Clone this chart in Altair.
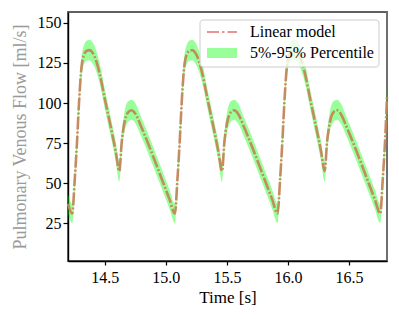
import altair as alt
import pandas as pd

# Time [s]
time = [
    14.200, 14.235, 14.255, 14.274, 14.290, 14.310, 14.330, 14.355, 14.377, 14.400,
    14.430, 14.460, 14.500, 14.550, 14.590, 14.620, 14.640, 14.660, 14.690, 14.720,
    14.750, 14.800, 14.880, 14.960, 15.030, 15.075,
    15.095, 15.114, 15.130, 15.150, 15.170, 15.195, 15.217, 15.240, 15.270, 15.300,
    15.340, 15.390, 15.430, 15.460, 15.480, 15.500, 15.530, 15.560, 15.590, 15.640,
    15.720, 15.800, 15.870, 15.915,
    15.935, 15.954, 15.970, 15.990, 16.010, 16.035, 16.057, 16.080, 16.110, 16.140,
    16.180, 16.230, 16.270, 16.300, 16.320, 16.340, 16.370, 16.400, 16.430, 16.480,
    16.560, 16.640, 16.710, 16.755,
    16.775, 16.794, 16.810,
]
# Linear model flow [ml/s]
flow = [
    37, 31, 52, 76, 100, 122, 130, 132.6, 133, 131.5,
    126.5, 118, 103, 85, 70, 57.5, 76, 87, 94, 95.5,
    93.5, 85, 70, 54, 40, 31,
    52, 76, 100, 122, 130, 132.6, 133, 131.5, 126.5, 118,
    103, 85, 70, 57.5, 76, 87, 94, 95.5, 93.5, 85,
    70, 54, 40, 31,
    52, 76, 100, 122, 130, 132.6, 133, 131.5, 126.5, 118,
    103, 85, 70, 57.5, 76, 87, 94, 95.5, 93.5, 85,
    70, 54, 40, 31,
    52, 76, 104,
]
# 5% percentile
p05 = [
    31, 25, 46, 70, 94, 116, 124, 126.5, 126.5, 125,
    120, 112, 97, 79, 64, 51, 70, 81, 88, 89.5,
    87.5, 79, 64, 48, 34, 25,
    46, 70, 94, 116, 124, 126.5, 126.5, 125, 120, 112,
    97, 79, 64, 51, 70, 81, 88, 89.5, 87.5, 79,
    64, 48, 34, 25,
    46, 70, 94, 116, 124, 126.5, 126.5, 125, 120, 112,
    97, 79, 64, 51, 70, 81, 88, 89.5, 87.5, 79,
    64, 48, 34, 25,
    46, 70, 98,
]
# 95% percentile
p95 = [
    43, 37, 58, 82, 106, 128, 136, 139, 139.5, 138,
    133, 124.5, 109, 91, 76, 63.5, 82, 93.5, 101, 102,
    100, 91, 76, 60, 46, 37,
    58, 82, 106, 128, 136, 139, 139.5, 138, 133, 124.5,
    109, 91, 76, 63.5, 82, 93.5, 101, 102, 100, 91,
    76, 60, 46, 37,
    58, 82, 106, 128, 136, 139, 139.5, 138, 133, 124.5,
    109, 91, 76, 63.5, 82, 93.5, 101, 102, 100, 91,
    76, 60, 46, 37,
    58, 82, 110,
]

x_ticks = [14.5, 15.0, 15.5, 16.0, 16.5]
y_ticks = [25, 50, 75, 100, 125, 150]
legend_labels = ["Linear model", "5%-95% Percentile"]

df = pd.DataFrame({"t": time, "v": flow, "lo": p05, "hi": p95})

W, H = 319, 249
FONT = "Liberation Serif, Times New Roman, Times, serif"

xs = alt.Scale(domain=[14.2, 16.81], nice=False, zero=False)
ys = alt.Scale(domain=[1.4, 156.8], nice=False, zero=False)

xaxis = alt.Axis(values=x_ticks, format=".1f", title="Time [s]", grid=False,
                 tickSize=4, labelPadding=4, titlePadding=4, titleFontSize=17)
yaxis = alt.Axis(values=y_ticks, title="Pulmonary Venous Flow [ml/s]", grid=False,
                 tickSize=5, labelPadding=2, titleColor="#9a9a9a", titleFontSize=18,
                 titleAngle=270, titleBaseline="middle", titleAlign="center",
                 titleX=-48, titleY=H / 2)

band = alt.Chart(df).mark_area(color="#00ff00", opacity=0.4, interpolate="monotone").encode(
    x=alt.X("t:Q", scale=xs, axis=xaxis),
    y=alt.Y("lo:Q", scale=ys, axis=yaxis),
    y2="hi:Q",
)

line = alt.Chart(df).mark_line(color="#c4865a", strokeOpacity=0.95, strokeWidth=2.6,
                               strokeDash=[13, 2, 2, 2], interpolate="monotone").encode(
    x=alt.X("t:Q", scale=xs),
    y=alt.Y("v:Q", scale=ys),
)

one = alt.Data(values=[{"a": 1}])

leg_box = alt.Chart(one).mark_rect(fill="white", fillOpacity=0.8, stroke="#cccccc",
                                   strokeWidth=1, cornerRadius=3).encode(
    x=alt.value(132), x2=alt.value(311), y=alt.value(8), y2=alt.value(55))

leg_line = alt.Chart(one).mark_rule(color="#d62728", opacity=0.5, strokeWidth=2,
                                    strokeDash=[12, 3, 2.5, 3]).encode(
    x=alt.value(139), x2=alt.value(169), y=alt.value(20))

leg_patch = alt.Chart(one).mark_rect(color="#00ff00", opacity=0.4).encode(
    x=alt.value(139), x2=alt.value(169), y=alt.value(36), y2=alt.value(46))

leg_t1 = alt.Chart(one).mark_text(text=legend_labels[0], align="left", baseline="middle",
                                  font=FONT, fontSize=16, color="black").encode(
    x=alt.value(182), y=alt.value(20))
leg_t2 = alt.Chart(one).mark_text(text=legend_labels[1], align="left", baseline="middle",
                                  font=FONT, fontSize=16, color="black").encode(
    x=alt.value(182), y=alt.value(41))

chart = alt.layer(band, line, leg_box, leg_line, leg_patch, leg_t1, leg_t2).properties(
    width=W, height=H,
    autosize=alt.AutoSizeParams(type="none"),
    padding={"left": 60, "top": 4, "right": 4, "bottom": 50},
).configure(
    font=FONT,
).configure_view(
    stroke="#606060", strokeWidth=1.8
).configure_axis(
    labelFont=FONT, titleFont=FONT, labelFontSize=16, titleFontSize=16,
    labelColor="black", titleColor="black", titleFontWeight="normal",
    domainColor="black", domainWidth=1.4, tickColor="black", tickWidth=1.2,
)

chart.save("out.html", embed_options={"renderer": "svg", "actions": False})
